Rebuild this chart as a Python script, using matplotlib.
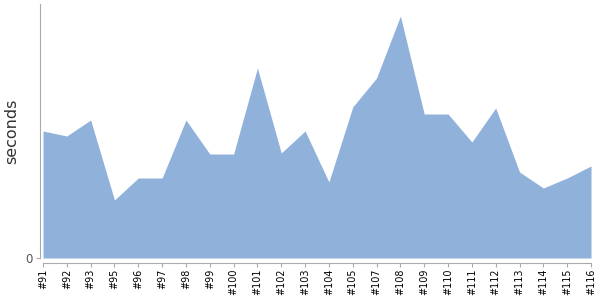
import matplotlib
matplotlib.use("Agg")
import matplotlib.pyplot as plt

# build labels and durations (seconds)
builds = ["#91", "#92", "#93", "#95", "#96", "#97", "#98", "#99", "#100", "#101",
          "#102", "#103", "#104", "#105", "#107", "#108", "#109", "#110", "#111",
          "#112", "#113", "#114", "#115", "#116"]
durations = [63.5, 61, 69, 29, 40, 40, 69, 52, 52, 95,
             52.5, 63.5, 38, 75.5, 90, 121, 72, 72, 58,
             75, 43, 35, 40, 46]

fig = plt.figure(figsize=(6, 3), dpi=100)
ax = fig.add_axes([43 / 600, 42 / 300, 548 / 600, 254 / 300])

x = list(range(len(builds)))
ax.fill_between(x, durations, 0, color="#8fb1da", linewidth=0)

ax.set_xlim(0, len(builds) - 1)
ax.set_ylim(0, 127)

ax.set_xticks(x, builds)
ax.set_yticks([0], ["0"])
ax.tick_params(axis="both", direction="out", length=3, width=0.8, color="#aaaaaa")
ax.tick_params(axis="x", pad=1.2, labelrotation=90, labelsize=6.9, labelcolor="#000000")
ax.tick_params(axis="y", pad=2, labelsize=8.5, labelcolor="#555555")

ax.set_ylabel("seconds", fontsize=11.5, color="#333333")
ax.yaxis.set_label_coords(-0.043, 0.5)

for side in ("top", "right"):
    ax.spines[side].set_visible(False)
ax.spines["left"].set_position(("outward", 2.2))
ax.spines["bottom"].set_position(("outward", 3.6))
ax.spines["left"].set_color("#aaaaaa")
ax.spines["bottom"].set_color("#aaaaaa")

fig.savefig("out.png", dpi=100)
